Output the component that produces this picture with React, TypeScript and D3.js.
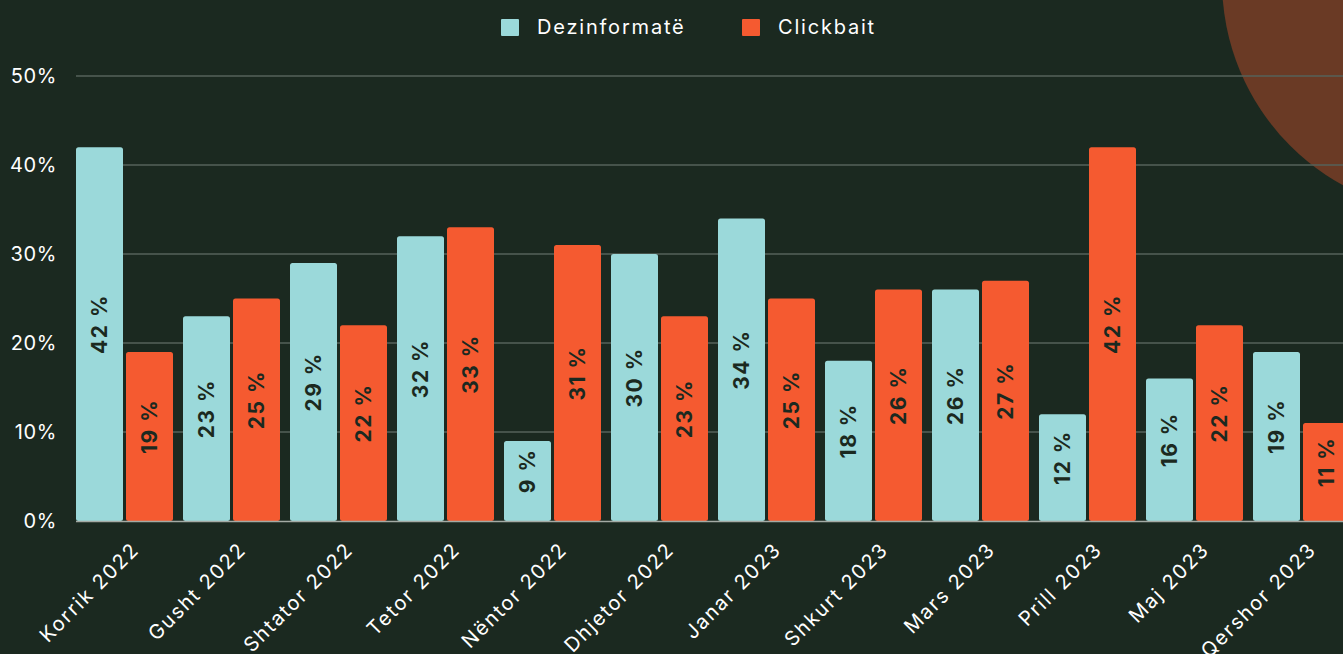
import React, { useEffect, useRef } from "react";
import * as d3 from "d3";

const months = [
  "Korrik 2022", "Gusht 2022", "Shtator 2022", "Tetor 2022", "Nëntor 2022", "Dhjetor 2022",
  "Janar 2023", "Shkurt 2023", "Mars 2023", "Prill 2023", "Maj 2023", "Qershor 2023",
];
const dezinformate = [42, 23, 29, 32, 9, 30, 34, 18, 26, 12, 16, 19];
const clickbait = [19, 25, 22, 33, 31, 23, 25, 26, 27, 42, 22, 11];
const seriesNames = ["Dezinformatë", "Clickbait"];
const yTicks = [0, 10, 20, 30, 40, 50];

const W = 1343;
const H = 654;
const BG = "#1b2920";
const colors = ["#9bd9da", "#f55a30"];
const FONT = "Inter, 'Noto Sans', sans-serif";

const App = () => {
  const ref = useRef(null);

  useEffect(() => {
    const svg = d3.select(ref.current);
    svg.selectAll("*").remove();

    // decorative circle in the corner
    svg.append("circle")
      .attr("cx", 1455)
      .attr("cy", -19)
      .attr("r", 233)
      .attr("fill", "#6a3a25");

    const x0 = d3.scaleBand().domain(months).range([76, 1350]).paddingInner(10 / 107).paddingOuter(0);
    const x1 = d3.scaleBand().domain(seriesNames).range([0, x0.bandwidth()]).paddingInner(0.06);
    const y = d3.scaleLinear().domain([0, 50]).range([521, 76]);

    // grid
    svg.append("g")
      .selectAll("line")
      .data(yTicks.filter(t => t > 0))
      .join("line")
      .attr("x1", 76)
      .attr("x2", W)
      .attr("y1", d => y(d))
      .attr("y2", d => y(d))
      .attr("stroke", "#56625a")
      .attr("stroke-width", 1.5);

    svg.append("g")
      .selectAll("text")
      .data(yTicks)
      .join("text")
      .attr("x", 57)
      .attr("y", d => y(d))
      .attr("dy", "0.36em")
      .attr("text-anchor", "end")
      .attr("fill", "#ffffff")
      .attr("font-family", FONT)
      .attr("font-size", 20)
      .attr("letter-spacing", 0.6)
      .text(d => d + "%");

    const rows = months.map((m, i) => ({ m, vals: [dezinformate[i], clickbait[i]] }));

    const groups = svg.append("g")
      .selectAll("g")
      .data(rows)
      .join("g")
      .attr("transform", d => `translate(${x0(d.m)},0)`);

    const cells = groups.selectAll("g")
      .data(d => d.vals.map((v, k) => ({ k, v })))
      .join("g");

    cells.append("rect")
      .attr("x", d => x1(seriesNames[d.k]))
      .attr("y", d => y(d.v))
      .attr("width", x1.bandwidth())
      .attr("height", d => y(0) - y(d.v))
      .attr("rx", 2.5)
      .attr("fill", d => colors[d.k]);

    cells.append("text")
      .attr("transform", d => {
        const cx = x1(seriesNames[d.k]) + x1.bandwidth() / 2;
        const cy = (y(d.v) + y(0)) / 2 - 10;
        return `translate(${cx},${cy}) rotate(-90)`;
      })
      .attr("text-anchor", "middle")
      .attr("dy", "0.36em")
      .attr("fill", BG)
      .attr("font-family", FONT)
      .attr("font-weight", 700)
      .attr("font-size", 21)
      .attr("letter-spacing", 1.5)
      .text(d => d.v + " %");

    // baseline
    svg.append("line")
      .attr("x1", 76)
      .attr("x2", W)
      .attr("y1", y(0) + 0.5)
      .attr("y2", y(0) + 0.5)
      .attr("stroke", "#a3aaa4")
      .attr("stroke-width", 1.5);

    // x labels
    svg.append("g")
      .selectAll("text")
      .data(months)
      .join("text")
      .attr("transform", d => `translate(${x0(d) + x0.bandwidth() / 2 + 6},${541}) rotate(-45)`)
      .attr("text-anchor", "end")
      .attr("dy", "0.7em")
      .attr("fill", "#ffffff")
      .attr("font-family", FONT)
      .attr("font-size", 20)
      .attr("letter-spacing", 1.8)
      .text(d => d);

    // legend
    const legend = svg.append("g");
    const lx = [501, 742];
    seriesNames.forEach((s, k) => {
      legend.append("rect")
        .attr("x", lx[k])
        .attr("y", 19)
        .attr("width", 18)
        .attr("height", 17)
        .attr("rx", 1)
        .attr("fill", colors[k]);
      legend.append("text")
        .attr("x", lx[k] + 36)
        .attr("y", 34)
        .attr("fill", "#ffffff")
        .attr("font-family", FONT)
        .attr("font-size", 20)
        .attr("letter-spacing", 1.8)
        .text(s);
    });
  }, []);

  return (
    <div style={{ position: "absolute", left: 0, top: 0, width: W, height: H, background: BG, overflow: "hidden" }}>
      <svg ref={ref} width={W} height={H} style={{ display: "block" }} />
    </div>
  );
};

export default App;
